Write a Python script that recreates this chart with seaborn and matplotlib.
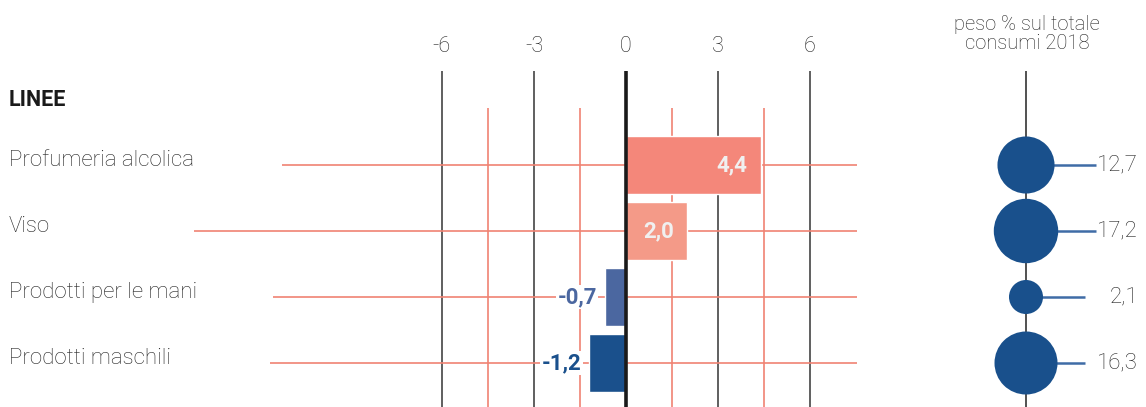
import matplotlib
matplotlib.use("Agg")
import matplotlib.pyplot as plt
import seaborn as sns
import pandas as pd

# Data
categories = ["Profumeria alcolica", "Viso", "Prodotti per le mani", "Prodotti maschili"]
variation = [4.4, 2.0, -0.7, -1.2]
weight_2018 = [12.7, 17.2, 2.1, 16.3]
x_ticks = [-6, -3, 0, 3, 6]
section_title = "LINEE"
weight_title = "peso % sul totale\nconsumi 2018"

# Styling
bar_colors = ["#F4877A", "#F49A88", "#4B67A0", "#1A508C"]
dot_color = "#19508C"
leader_color = "#3F6CA6"
grid_red = "#F08373"
ink = "#222222"
row_line_start = [-11.2, -14.1, -11.5, -11.6]
leader_end = [1096, 1096, 1085, 1085]

def fmt(v):
    return f"{v:.1f}".replace(".", ",")

sns.set_theme(style="white")
plt.rcParams["font.family"] = ["Roboto", "DejaVu Sans"]

W, H = 1146, 407
fig = plt.figure(figsize=(W / 100, H / 100), dpi=100)
fig.patch.set_facecolor("white")

top_px = 71
y_top = (top_px - 165) / 66
y_bot = (H - 165) / 66

# ---- Bar panel ----
ax1 = fig.add_axes([0, 0, 870 / W, (H - top_px) / H])
df = pd.DataFrame({"cat": categories, "val": variation})
sns.barplot(data=df, x="val", y="cat", hue="cat", palette=bar_colors,
            legend=False, orient="h", width=0.89, saturation=1, ax=ax1, zorder=3)
ax1.set_xlim(-626 / 30.67, 244 / 30.67)
ax1.set_ylim(y_bot, y_top)
for s in ax1.spines.values():
    s.set_visible(False)
ax1.set_xlabel("")
ax1.set_ylabel("")
ax1.set_yticks([])
ax1.xaxis.tick_top()
ax1.set_xticks(x_ticks)
ax1.set_xticklabels([str(t) for t in x_ticks])
ax1.tick_params(axis="x", length=0, pad=10, labelsize=15.5, labelcolor=ink)
for lab in ax1.get_xticklabels():
    lab.set_fontweight("light")

# grid lines
for t in x_ticks:
    if t == 0:
        ax1.vlines(t, y_bot, y_top, color="#1a1a1a", lw=2.6, zorder=4)
    else:
        ax1.vlines(t, y_bot, y_top, color="#444444", lw=1.2, zorder=1)
for t in [-4.5, -1.5, 1.5, 4.5]:
    ax1.vlines(t, y_bot, (108 - 165) / 66, color=grid_red, lw=1.2, zorder=1)
for i, x0 in enumerate(row_line_start):
    ax1.hlines(i, x0, 7.53, color=grid_red, lw=1.2, zorder=2)

# left labels
x_lab = (9 - 626) / 30.67
ax1.text(x_lab, (100 - 165) / 66, section_title, fontsize=15.5, fontweight="bold",
         color="#1a1a1a", va="center", ha="left", clip_on=False)
for i, c in enumerate(categories):
    ax1.text(x_lab, i - 0.07, c, fontsize=16, fontweight="light", color=ink,
             va="center", ha="left")

# bar value labels: inside wide bars, beside the bar end otherwise
for i, v in enumerate(variation):
    if v > 0:
        ax1.text(v - 0.45, i, fmt(v), fontsize=16, fontweight="bold",
                 color="#F0F0F0", va="center", ha="right", zorder=5)
    else:
        ax1.text(v - 0.25, i, fmt(v), fontsize=16, fontweight="bold",
                 color=bar_colors[i], va="center", ha="right", zorder=5,
                 bbox=dict(facecolor="white", edgecolor="none", pad=1))

# ---- Weight panel ----
ax2 = fig.add_axes([870 / W, 0, (W - 870) / W, (H - top_px) / H])
ax2.set_xlim(870, W)
ax2.set_ylim(y_bot, y_top)
ax2.axis("off")
cx = 1026
ax2.vlines(cx, y_bot, y_top, color="#333333", lw=1.2, zorder=1)
for i, e in enumerate(leader_end):
    ax2.hlines(i, cx, e, color=leader_color, lw=1.8, zorder=1)
wdf = pd.DataFrame({"x": [cx] * len(weight_2018), "y": list(range(len(weight_2018))),
                    "w": weight_2018})
sns.scatterplot(data=wdf, x="x", y="y", size="w", sizes=(600, 2150),
                size_norm=(min(weight_2018), max(weight_2018)), color=dot_color,
                linewidth=0, legend=False, ax=ax2, zorder=3, alpha=1)
ax2.set_xlim(870, W)
ax2.set_ylim(y_bot, y_top)
for i, w in enumerate(weight_2018):
    ax2.text(1138, i, fmt(w), fontsize=16, fontweight="light", color=ink,
             va="center", ha="right")

fig.text(1027 / W, 1 - 34 / H, weight_title, fontsize=14.5, fontweight="light",
         color=ink, ha="center", va="center", linespacing=1.05)

fig.savefig("out.png", dpi=100, facecolor="white")
